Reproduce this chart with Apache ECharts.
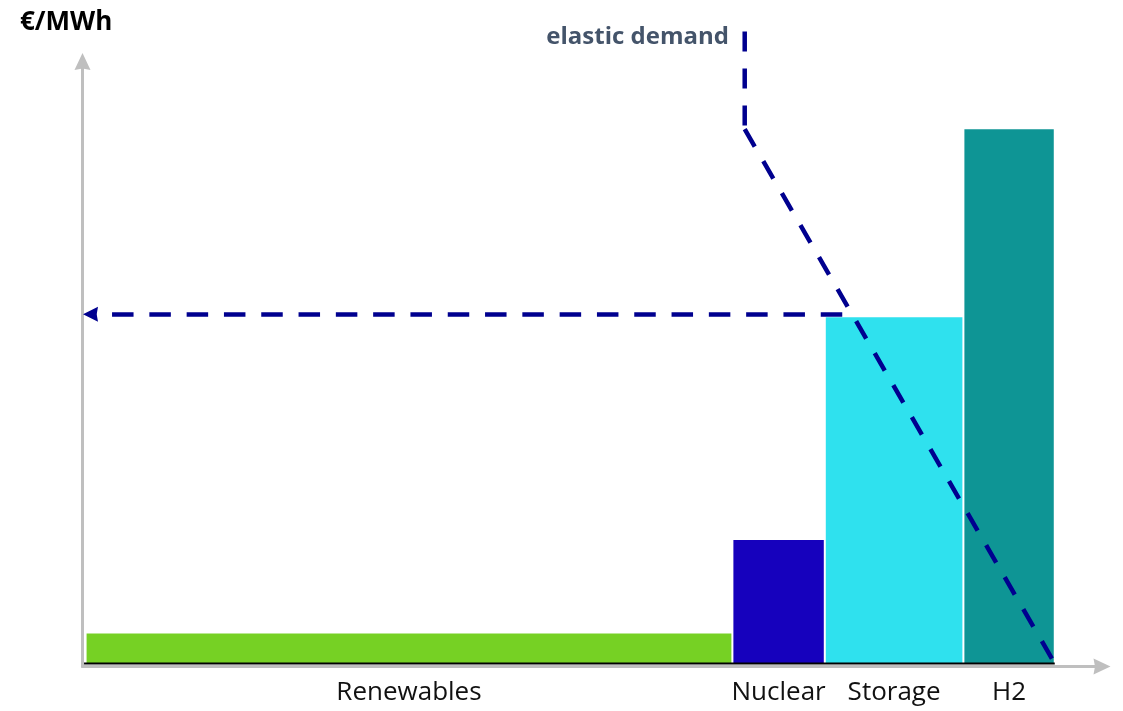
<!DOCTYPE html>
<html>
<head>
<meta charset="utf-8">
<script src="https://cdn.jsdelivr.net/npm/echarts@6/dist/echarts.min.js"></script>
<style>
  html, body { margin: 0; padding: 0; background: #ffffff; }
  #chart { width: 1123px; height: 711px; }
</style>
</head>
<body>
<div id="chart"></div>
<script>
// Merit order: each technology is a block whose width is its capacity
// and whose height is its marginal cost (€/MWh).
const categories = ['Renewables', 'Nuclear', 'Storage', 'H2'];
const capacity   = [63, 9, 13.5, 8.9];
const cost       = [10, 41, 115, 177.5];
const barColors  = ['#76D124', '#1601BD', '#2FE1EE', '#0E9595'];

// Elastic demand curve (quantity, price): a vertical cap, then a sloped part
const demandCap   = [[64.2, 210], [64.2, 177.5]];
const demandSlope = [[64.2, 177.5], [94.4, 0]];

// Clearing price read back to the price axis
const clearingPrice = 116;
const clearingQty = 73.7;

const axisGrey = '#BFBFBF';
const demandBlue = '#00008F';
const labelFont = '"Open Sans", "Noto Sans", sans-serif';
const arrowHead = 'path://M8,0 L16,17 L8,15.5 L0,17 Z';
const demandStyle = { color: demandBlue, width: 4.5, type: [20, 17], cap: 'butt' };

// cumulative start/end of each block
const blocks = [];
let acc = 0;
categories.forEach((name, i) => {
  blocks.push([acc, acc + capacity[i], cost[i], name, i]);
  acc += capacity[i];
});

const chart = echarts.init(document.getElementById('chart'), null, { renderer: 'canvas' });

chart.setOption({
  animation: false,
  backgroundColor: '#ffffff',
  grid: { left: 82.5, right: 21, top: 61.5, bottom: 44.5, containLabel: false },
  xAxis: {
    type: 'value', min: -0.3, max: 99,
    axisLine: {
      show: true, onZero: false,
      symbol: ['none', arrowHead], symbolSize: [16, 17],
      lineStyle: { color: axisGrey, width: 3 }
    },
    axisTick: { show: false }, axisLabel: { show: false }, splitLine: { show: false }
  },
  yAxis: {
    type: 'value', min: -1, max: 200,
    axisLine: {
      show: true, onZero: false,
      symbol: ['none', arrowHead], symbolSize: [16, 17],
      lineStyle: { color: axisGrey, width: 3 }
    },
    axisTick: { show: false }, axisLabel: { show: false }, splitLine: { show: false }
  },
  graphic: [
    {
      type: 'text', left: 20, top: 10,
      style: { text: '€/MWh', font: 'bold 26px ' + labelFont, fill: '#000000' }
    },
    {
      type: 'text', right: 1123 - 729, top: 25,
      style: { text: 'elastic demand', font: 'bold 24px ' + labelFont, fill: '#44546A', textAlign: 'right' }
    }
  ],
  series: [
    {
      type: 'custom',
      name: 'supply',
      silent: true,
      z: 2,
      data: blocks,
      renderItem: function (params, api) {
        const topLeft = api.coord([api.value(0), api.value(2)]);
        const bottomRight = api.coord([api.value(1), 0]);
        const idx = api.value(4);
        return {
          type: 'group',
          children: [
            {
              type: 'rect',
              shape: {
                x: topLeft[0] + 1,
                y: topLeft[1],
                width: bottomRight[0] - topLeft[0] - 2,
                height: bottomRight[1] - topLeft[1]
              },
              style: { fill: barColors[idx] }
            },
            {
              type: 'text',
              x: (topLeft[0] + bottomRight[0]) / 2,
              y: bottomRight[1] + 29,
              style: {
                text: categories[idx],
                font: '26px ' + labelFont,
                fill: '#111111',
                align: 'center',
                verticalAlign: 'middle'
              }
            }
          ]
        };
      }
    },
    {
      type: 'line',
      name: 'baseline',
      silent: true,
      z: 3,
      symbol: 'none',
      data: [[-0.15, 0], [acc, 0]],
      lineStyle: { color: '#000000', width: 2 }
    },
    {
      type: 'line',
      name: 'elastic demand',
      silent: true,
      clip: false,
      z: 5,
      symbol: 'none',
      data: demandCap,
      lineStyle: demandStyle
    },
    {
      type: 'line',
      name: 'elastic demand slope',
      silent: true,
      clip: false,
      z: 5,
      symbol: 'none',
      data: demandSlope,
      lineStyle: demandStyle,
      markLine: {
        silent: true,
        symbol: ['none', arrowHead],
        symbolSize: [15, 15],
        label: { show: false },
        lineStyle: { color: demandBlue, width: 4.5, type: [21.5, 15.8], cap: 'butt' },
        data: [[
          { coord: [clearingQty, clearingPrice] },
          { coord: [0.48, clearingPrice] }
        ]]
      }
    }
  ]
});
</script>
</body>
</html>
